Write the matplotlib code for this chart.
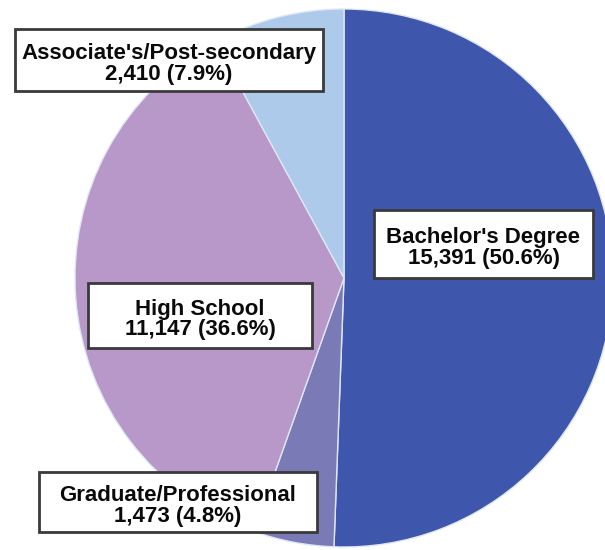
import matplotlib.pyplot as plt
from matplotlib.patches import Rectangle

# Educational attainment counts
categories = ["Bachelor's Degree", "Graduate/Professional", "High School",
              "Associate's/Post-secondary"]
counts = [15391, 1473, 11147, 2410]
colors = ["#3E57AC", "#7A7BB6", "#B897C9", "#AECAEA"]

# label boxes (x0, y0 top, x1, y1 bottom) in pixels
boxes = [(374, 210, 593, 278), (39, 472, 317, 532),
         (88, 283, 312, 348), (15, 29, 323, 91)]

W, H = 605, 550

fig = plt.figure(figsize=(6.05, 5.5), dpi=100)
ax = fig.add_axes([0, 0, 1, 1])

ax.pie(counts, colors=colors, startangle=90, counterclock=False,
       center=(344, H - 278), radius=269,
       wedgeprops=dict(edgecolor="#dfe6f5", linewidth=1.0))
ax.set_xlim(0, W)
ax.set_ylim(0, H)
ax.set_aspect("equal")
ax.axis("off")

total = sum(counts)
for name, n, (x0, y0, x1, y1) in zip(categories, counts, boxes):
    ax.add_patch(Rectangle((x0, H - y1), x1 - x0, y1 - y0,
                           facecolor="white", edgecolor="#3a3a3a",
                           linewidth=2, zorder=3))
    pct = 100 * n / total
    ax.text((x0 + x1) / 2, H - (y0 + y1) / 2 - 4,
            f"{name}\n{n:,} ({pct:.1f}%)",
            ha="center", va="center", fontsize=16, fontweight="bold",
            family="Liberation Sans", color="#0a0a0a", linespacing=1.0,
            zorder=4)

fig.savefig("out.png", dpi=100)
